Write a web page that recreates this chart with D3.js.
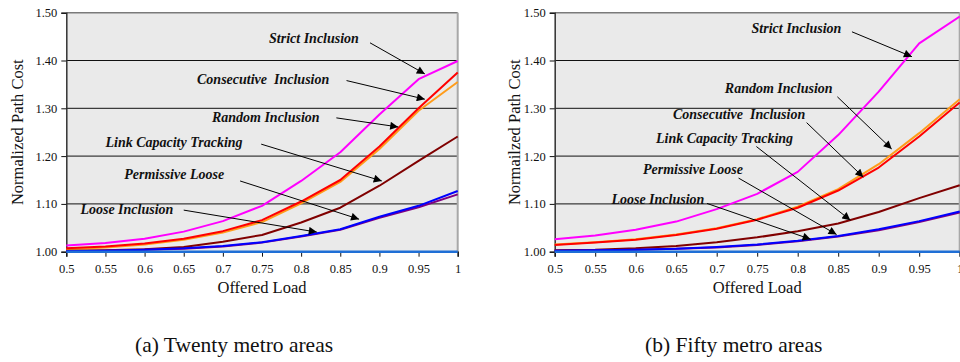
<!DOCTYPE html>
<html>
<head>
<meta charset="utf-8">
<script src="https://cdn.jsdelivr.net/npm/d3@7/dist/d3.min.js"></script>
<style>
  html, body { margin: 0; padding: 0; background: #fff; }
  svg { display: block; }
  text { font-family: "Liberation Serif", "Times New Roman", serif; fill: #111; }
</style>
</head>
<body>
<div id="chart"></div>
<script>
// offered load (x axis)
const loads = [0.5, 0.55, 0.6, 0.65, 0.7, 0.75, 0.8, 0.85, 0.9, 0.95, 1.0];
const xTickLabels = ['0.5', '0.55', '0.6', '0.65', '0.7', '0.75', '0.8', '0.85', '0.9', '0.95', '1'];
const yTicks = [1.0, 1.1, 1.2, 1.3, 1.4, 1.5];

// (a) twenty metro areas
const twentyStrict      = [1.013, 1.018, 1.027, 1.042, 1.064, 1.096, 1.148, 1.208, 1.287, 1.361, 1.399];
const twentyConsecutive = [1.007, 1.011, 1.017, 1.027, 1.043, 1.066, 1.105, 1.150, 1.220, 1.300, 1.375];
const twentyRandom      = [1.005, 1.009, 1.015, 1.025, 1.040, 1.062, 1.101, 1.146, 1.215, 1.295, 1.355];
const twentyLinkCap     = [1.002, 1.003, 1.005, 1.010, 1.021, 1.035, 1.061, 1.092, 1.138, 1.190, 1.241];
const twentyPermissive  = [1.001, 1.002, 1.004, 1.006, 1.011, 1.019, 1.032, 1.046, 1.071, 1.093, 1.120];
const twentyLoose       = [1.001, 1.002, 1.004, 1.007, 1.012, 1.020, 1.033, 1.047, 1.073, 1.096, 1.127];

// (b) fifty metro areas
const fiftyStrict      = [1.026, 1.034, 1.046, 1.063, 1.089, 1.121, 1.167, 1.244, 1.335, 1.436, 1.492];
const fiftyRandom      = [1.015, 1.020, 1.026, 1.036, 1.049, 1.068, 1.094, 1.131, 1.183, 1.248, 1.319];
const fiftyConsecutive = [1.014, 1.019, 1.025, 1.035, 1.048, 1.067, 1.092, 1.128, 1.176, 1.241, 1.312];
const fiftyLinkCap     = [1.003, 1.004, 1.007, 1.012, 1.020, 1.030, 1.043, 1.059, 1.083, 1.112, 1.139];
const fiftyPermissive  = [1.002, 1.003, 1.004, 1.006, 1.009, 1.014, 1.022, 1.032, 1.045, 1.062, 1.082];
const fiftyLoose       = [1.002, 1.003, 1.004, 1.006, 1.010, 1.015, 1.023, 1.033, 1.047, 1.064, 1.084];

// shortest path reference
const baseline = [1, 1, 1, 1, 1, 1, 1, 1, 1, 1, 1];

// annotation labels: [text, label x, label y, arrow from x, y, arrow to x, y] in data units
const twentyNotes = [
  ['Strict Inclusion',       0.759, 1.437, 0.888, 1.437, 0.958, 1.372],
  ['Consecutive  Inclusion', 0.667, 1.351, 0.858, 1.358, 0.958, 1.319],
  ['Random Inclusion',       0.686, 1.271, 0.845, 1.280, 0.924, 1.261],
  ['Link Capacity Tracking', 0.550, 1.219, 0.749, 1.225, 0.903, 1.148],
  ['Permissive Loose',       0.574, 1.152, 0.722, 1.148, 0.874, 1.068],
  ['Loose Inclusion',        0.518, 1.079, 0.650, 1.087, 0.820, 1.041]
];
const fiftyNotes = [
  ['Strict Inclusion',       0.743, 1.458, 0.867, 1.460, 0.941, 1.408],
  ['Random Inclusion',       0.710, 1.333, 0.849, 1.324, 0.916, 1.215],
  ['Consecutive  Inclusion', 0.646, 1.277, 0.811, 1.270, 0.881, 1.156],
  ['Link Capacity Tracking', 0.625, 1.227, 0.749, 1.220, 0.865, 1.066],
  ['Permissive Loose',       0.609, 1.162, 0.727, 1.154, 0.848, 1.036],
  ['Loose Inclusion',        0.570, 1.100, 0.688, 1.101, 0.816, 1.026]
];

const W = 960, H = 362;
const svg = d3.select('#chart').append('svg')
  .attr('width', W).attr('height', H);

svg.append('defs').append('marker')
  .attr('id', 'arrow')
  .attr('markerUnits', 'userSpaceOnUse')
  .attr('viewBox', '0 0 10 10')
  .attr('refX', 10).attr('refY', 5)
  .attr('markerWidth', 9).attr('markerHeight', 8)
  .attr('orient', 'auto')
  .append('path')
  .attr('d', 'M0,0 L10,5 L0,10 Z')
  .attr('fill', '#000');

function drawPanel(cfg) {
  const x = d3.scaleLinear().domain([0.5, 1.0]).range([cfg.left, cfg.right]);
  const y = d3.scaleLinear().domain([1.0, 1.5]).range([251.7, 12.7]);
  const g = svg.append('g');

  // plot background
  g.append('rect')
    .attr('x', x(0.5)).attr('y', y(1.5))
    .attr('width', x(1.0) - x(0.5)).attr('height', y(1.0) - y(1.5))
    .attr('fill', '#eaeaea');

  // gridlines
  g.selectAll('.grid').data(yTicks.slice(1, -1)).enter().append('line')
    .attr('x1', x(0.5)).attr('x2', x(1.0))
    .attr('y1', d => y(d)).attr('y2', d => y(d))
    .attr('stroke', '#111').attr('stroke-width', 1);

  // frame: top and right in grey
  g.append('line')
    .attr('x1', x(0.5)).attr('x2', x(1.0))
    .attr('y1', y(1.5)).attr('y2', y(1.5))
    .attr('stroke', '#7a7a7a').attr('stroke-width', 1.5);
  g.append('line')
    .attr('x1', x(1.0)).attr('x2', x(1.0))
    .attr('y1', y(1.5)).attr('y2', y(1.0))
    .attr('stroke', '#a8a8a8').attr('stroke-width', 2);

  // axes
  const xAxis = d3.axisBottom(x).tickValues(loads)
    .tickFormat((d, i) => xTickLabels[i]).tickSize(5).tickPadding(7);
  const gx = g.append('g').attr('transform', `translate(0,${y(1.0)})`).call(xAxis);
  const yAxis = d3.axisLeft(y).tickValues(yTicks)
    .tickFormat(d3.format('.2f')).tickSize(5).tickPadding(4);
  const gy = g.append('g').attr('transform', `translate(${x(0.5)},0)`).call(yAxis);
  [gx, gy].forEach(a => {
    a.select('.domain').attr('stroke', '#333').attr('stroke-width', 1.5);
    a.selectAll('.tick line').attr('stroke', '#111');
    a.selectAll('.tick text')
      .style('font-family', '"Liberation Serif", "Times New Roman", serif')
      .style('font-size', '12.5px').attr('fill', '#111');
  });

  // series lines
  const line = d3.line().x((d, i) => x(loads[i])).y(d => y(d));
  g.selectAll('.series').data(cfg.series).enter().append('path')
    .attr('d', d => line(d.values))
    .attr('fill', 'none')
    .attr('stroke', d => d.color)
    .attr('stroke-width', d => d.width)
    .attr('stroke-linejoin', 'round');

  // annotations
  const notes = g.selectAll('.note').data(cfg.notes).enter().append('g');
  notes.append('text')
    .attr('x', d => x(d[1])).attr('y', d => y(d[2]))
    .attr('xml:space', 'preserve')
    .style('white-space', 'pre')
    .style('font-style', 'italic')
    .style('font-weight', 'bold')
    .style('font-size', '14px')
    .attr('fill', '#1a1a1a')
    .text(d => d[0]);
  notes.append('line')
    .attr('x1', d => x(d[3])).attr('y1', d => y(d[4]))
    .attr('x2', d => x(d[5])).attr('y2', d => y(d[6]))
    .attr('stroke', '#000').attr('stroke-width', 1)
    .attr('marker-end', 'url(#arrow)');

  // axis titles
  g.append('text')
    .attr('x', (x(0.5) + x(1.0)) / 2).attr('y', 293)
    .attr('text-anchor', 'middle')
    .style('font-size', '16.5px')
    .text('Offered Load');
  g.append('text')
    .attr('transform', `translate(${cfg.yTitleX},${(y(1.0) + y(1.5)) / 2}) rotate(-90)`)
    .attr('text-anchor', 'middle')
    .style('font-size', '16.5px')
    .text(cfg.yTitle);

  // caption
  g.append('text')
    .attr('x', cfg.captionX).attr('y', 352)
    .style('font-size', '21.5px')
    .text(cfg.caption);
}

drawPanel({
  left: 66.3, right: 457.7,
  yTitleX: 23, yTitle: 'Normalized Path Cost',
  captionX: 135, caption: '(a) Twenty metro areas',
  notes: twentyNotes,
  series: [
    { values: twentyStrict,      color: '#ff00ff', width: 2 },
    { values: twentyRandom,      color: '#ff9c1a', width: 2 },
    { values: twentyConsecutive, color: '#ff0000', width: 2 },
    { values: twentyLinkCap,     color: '#800000', width: 2 },
    { values: twentyPermissive,  color: '#800080', width: 2 },
    { values: twentyLoose,       color: '#0000ff', width: 2 },
    { values: baseline,          color: '#1f6fd6', width: 2.5 }
  ]
});

drawPanel({
  left: 554.7, right: 959.7,
  yTitleX: 520, yTitle: 'Normailzed Path Cost',
  captionX: 645, caption: '(b) Fifty metro areas',
  notes: fiftyNotes,
  series: [
    { values: fiftyStrict,      color: '#ff00ff', width: 2 },
    { values: fiftyRandom,      color: '#ff9c1a', width: 2 },
    { values: fiftyConsecutive, color: '#ff0000', width: 2 },
    { values: fiftyLinkCap,     color: '#800000', width: 2 },
    { values: fiftyPermissive,  color: '#800080', width: 2 },
    { values: fiftyLoose,       color: '#0000ff', width: 2 },
    { values: baseline,         color: '#1f6fd6', width: 2.5 }
  ]
});
</script>
</body>
</html>
